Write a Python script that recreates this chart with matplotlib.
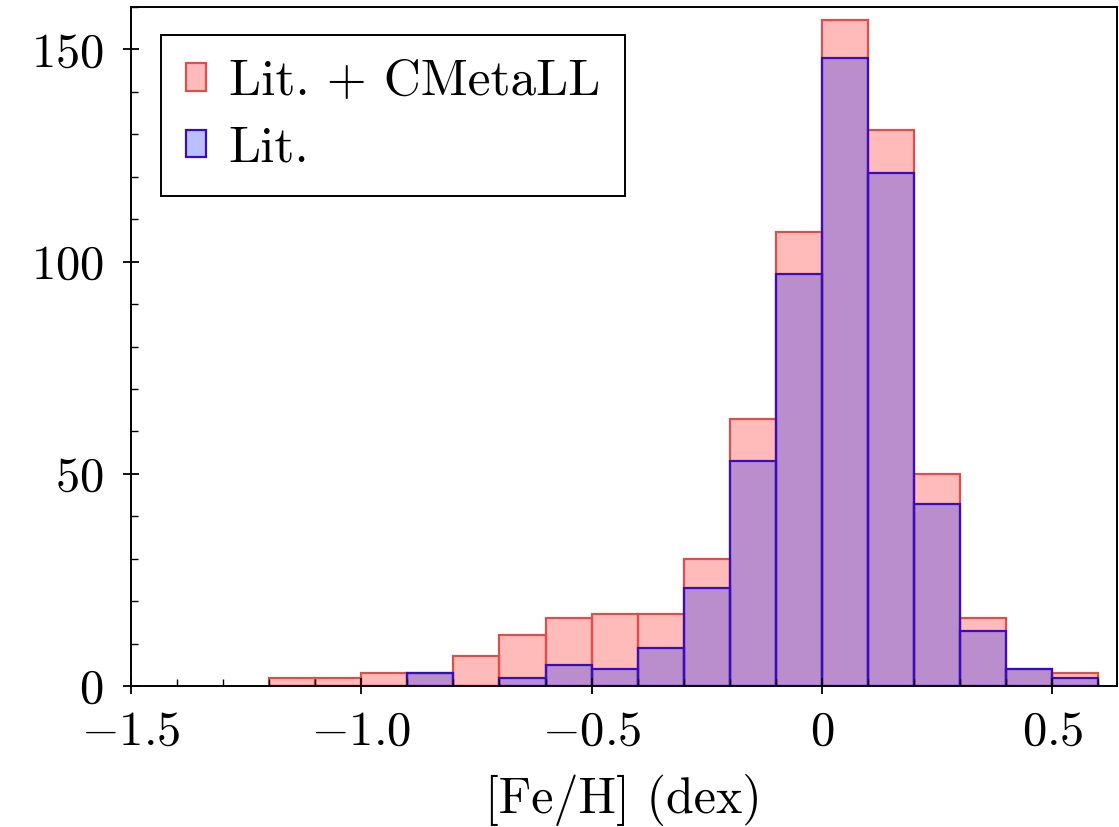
import numpy as np
import matplotlib
matplotlib.use("Agg")
import matplotlib.pyplot as plt
from matplotlib.ticker import MultipleLocator

# --- DATA ---
BIN_LEFT = [-1.2, -1.1, -1.0, -0.9, -0.8, -0.7, -0.6, -0.5, -0.4,
            -0.3, -0.2, -0.1, 0.0, 0.1, 0.2, 0.3, 0.4, 0.5]
BIN_WIDTH = 0.1
COUNTS_ALL = [2, 2, 3, 3, 7, 12, 16, 17, 17, 30, 63, 107, 157, 131, 50, 16, 4, 3]
COUNTS_LIT = [0, 0, 0, 3, 0, 2, 5, 4, 9, 23, 53, 97, 148, 121, 43, 13, 4, 2]

LABEL_ALL = "Lit. + CMetaLL"
LABEL_LIT = "Lit."

X_TICKS = [-1.5, -1.0, -0.5, 0.0, 0.5]
X_TICKLABELS = [r"$-1.5$", r"$-1.0$", r"$-0.5$", r"$0$", r"$0.5$"]
Y_TICKS = [0, 50, 100, 150]
Y_TICKLABELS = [r"$0$", r"$50$", r"$100$", r"$150$"]
X_LABEL = "[Fe/H] (dex)"

# --- STYLE ---
plt.rcParams['font.family'] = ['cmr10', 'DejaVu Serif']
plt.rcParams['mathtext.fontset'] = 'cm'
plt.rcParams['axes.unicode_minus'] = False
FS_TICK = 35
FS_LABEL = 36
FS_LEG = 37

RED_FILL = (1.0, 0.0, 0.0, 0.27)
RED_EDGE = (0.88, 0.30, 0.30)
BLUE_FILL = (0.0, 0.08, 1.0, 0.27)
BLUE_EDGE = (0.22, 0.05, 0.75)


def main():
    fig = plt.figure(figsize=(11.19, 8.27), dpi=100)
    ax = fig.add_axes([0.117, 0.1705, 0.881, 0.821])

    ax.bar(BIN_LEFT, COUNTS_ALL, width=BIN_WIDTH, align='edge',
           facecolor=RED_FILL, edgecolor=RED_EDGE, linewidth=1.6,
           label=LABEL_ALL)
    ax.bar(BIN_LEFT, COUNTS_LIT, width=BIN_WIDTH, align='edge',
           facecolor=BLUE_FILL, edgecolor=BLUE_EDGE, linewidth=1.6,
           label=LABEL_LIT)

    ax.set_xlim(-1.5, 0.64)
    ax.set_ylim(0, 160)

    ax.set_xticks(X_TICKS, X_TICKLABELS)
    ax.set_yticks(Y_TICKS, Y_TICKLABELS)
    ax.xaxis.set_minor_locator(MultipleLocator(0.1))
    ax.yaxis.set_minor_locator(MultipleLocator(10))
    ax.tick_params(which='major', direction='inout', length=11, width=1.3,
                   labelsize=FS_TICK, top=False, right=False)
    ax.tick_params(which='minor', direction='in', length=5, width=1.0,
                   top=False, right=False)
    ax.tick_params(axis='x', which='major', pad=12)
    ax.tick_params(axis='y', which='major', pad=14)

    for s in ax.spines.values():
        s.set_linewidth(1.4)

    ax.set_xlabel(X_LABEL, fontsize=FS_LABEL, labelpad=14)

    leg = ax.legend(loc='upper left', fontsize=FS_LEG, frameon=True, fancybox=False,
                    edgecolor='black', framealpha=1.0, handlelength=0.38,
                    handleheight=0.45, handletextpad=0.45, borderpad=0.48,
                    labelspacing=0.4, borderaxespad=0,
                    bbox_to_anchor=(0.031, 0.959))
    leg.get_frame().set_linewidth(1.4)

    fig.savefig('out.png', dpi=100)


if __name__ == "__main__":
    main()
